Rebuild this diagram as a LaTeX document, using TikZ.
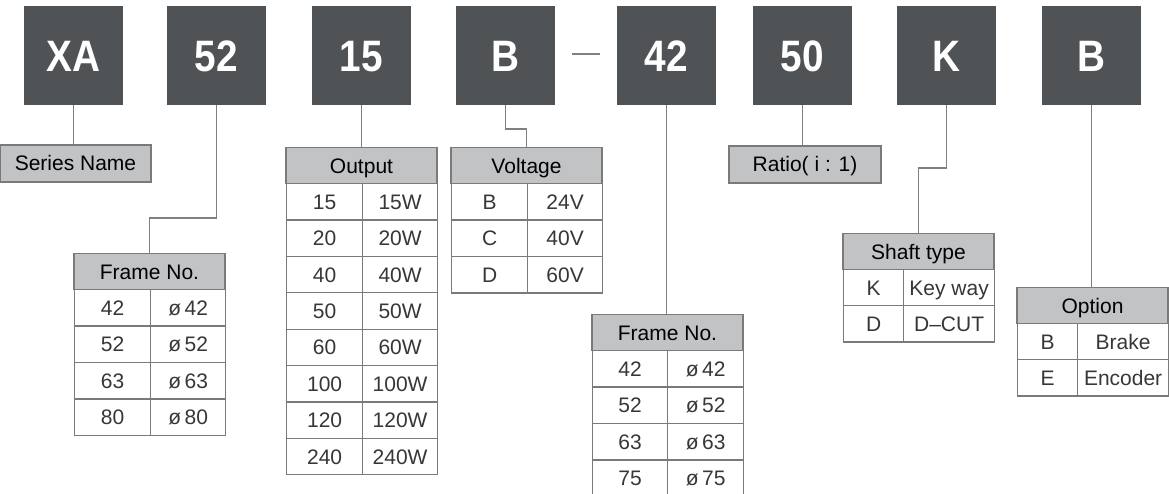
\documentclass[tikz,border=0pt]{standalone}
\usepackage{fontspec}
\setmainfont{Liberation Sans}
\newfontfamily\codefam{Liberation Sans}[FakeStretch=0.88]
\usepackage{tikz}
\usetikzlibrary{positioning}
\definecolor{codegray}{RGB}{80,83,86}
\definecolor{headgray}{RGB}{193,195,197}
\definecolor{rule}{RGB}{122,122,122}
\definecolor{wiregray}{RGB}{128,128,128}
\definecolor{celltext}{RGB}{55,55,55}
\tikzset{
  codebox/.style ={rectangle, fill=codegray, minimum size=99pt, inner sep=0pt,
                   text=white, text height=31.5pt, text depth=0pt,
                   font=\fontsize{44}{48}\selectfont\codefam\bfseries},
  tabhead/.style ={rectangle, draw=rule, line width=1.2pt, fill=headgray, minimum height=36pt,
                   inner sep=0pt, anchor=north, text=black, text height=15pt, text depth=0pt,
                   font=\fontsize{21}{24}\selectfont},
  namebox/.style ={tabhead, anchor=center, minimum height=37pt},
  tabcell/.style ={rectangle, draw=rule, line width=1.2pt, fill=white, minimum height=36.4pt,
                   inner sep=0pt, anchor=north west, text=celltext, text height=15pt, text depth=0pt,
                   font=\fontsize{21}{24}\selectfont},
  wire/.style    ={draw=wiregray, line width=1.6pt},
}

\begin{document}
\begin{tikzpicture}[x=1pt, y=-1pt]
\clip (0,0) rectangle (1169,494);

% code boxes
\node[codebox] (cseries) at (73.5,55.5)   {XA};
\node[codebox] (cframe)  at (216.5,55.5)  {52};
\node[codebox] (coutput) at (361.5,55.5)  {15};
\node[codebox] (cvolt)   at (505.5,55.5)  {B};
\node[codebox] (cgframe) at (666.5,55.5)  {42};
\node[codebox] (cratio)  at (802.5,55.5)  {50};
\node[codebox] (cshaft)  at (946.5,55.5)  {K};
\node[codebox] (coption) at (1091.5,55.5) {B};

\coordinate (dashL) at (572,54);
\coordinate (dashR) at (600,54);
\draw[wire, line width=1.2pt] (dashL) -- (dashR);

% single labels
\node[namebox, minimum width=151pt] (series) at (75.5,163.5) {Series Name};
\node[namebox, minimum width=152pt] (ratio)  at (805,164.5)  {Ratio( i : 1)};

% frame no. (motor)
\node[tabhead, minimum width=151pt] (frame) at (149.5,253) {Frame No.};
\foreach \k/\v [count=\i] in {42/{ø\,42}, 52/{ø\,52}, 63/{ø\,63}, 80/{ø\,80}} {
  \node[tabcell, minimum width=76pt] (frame-k\i) at (74, {289+(\i-1)*36.5}) {\k};
  \node[tabcell, minimum width=75pt] (frame-v\i) at (150, {289+(\i-1)*36.5}) {\v};
}

% output
\node[tabhead, minimum width=151pt] (output) at (361.5,147) {Output};
\foreach \k [count=\i] in {15, 20, 40, 50, 60, 100, 120, 240} {
  \node[tabcell, minimum width=76pt] (output-k\i) at (286, {183+(\i-1)*36.4}) {\k};
  \node[tabcell, minimum width=75pt] (output-v\i) at (362, {183+(\i-1)*36.4}) {\k W};
}

% voltage
\node[tabhead, minimum width=151pt] (volt) at (526.5,147) {Voltage};
\foreach \k/\v [count=\i] in {B/24V, C/40V, D/60V} {
  \node[tabcell, minimum width=76pt] (volt-k\i) at (451, {183+(\i-1)*36.5}) {\k};
  \node[tabcell, minimum width=75pt] (volt-v\i) at (527, {183+(\i-1)*36.5}) {\v};
}

% frame no. (gear)
\node[tabhead, minimum width=151pt] (gframe) at (667.5,314) {Frame No.};
\foreach \k/\v [count=\i] in {42/{ø\,42}, 52/{ø\,52}, 63/{ø\,63}, 75/{ø\,75}} {
  \node[tabcell, minimum width=75pt] (gframe-k\i) at (592, {350+(\i-1)*36.5}) {\k};
  \node[tabcell, minimum width=76pt] (gframe-v\i) at (667, {350+(\i-1)*36.5}) {\v};
}

% shaft type
\node[tabhead, minimum width=151pt] (shaft) at (918.5,233) {Shaft type};
\foreach \k/\v [count=\i] in {K/Key way, D/D–CUT} {
  \node[tabcell, minimum width=60pt] (shaft-k\i) at (843, {269+(\i-1)*36}) {\k};
  \node[tabcell, minimum width=91pt] (shaft-v\i) at (903, {269+(\i-1)*36}) {\v};
}

% option
\node[tabhead, minimum width=151pt] (option) at (1092.5,287) {Option};
\foreach \k/\v [count=\i] in {B/Brake, E/Encoder} {
  \node[tabcell, minimum width=60pt] (option-k\i) at (1017, {323+(\i-1)*36}) {\k};
  \node[tabcell, minimum width=91pt] (option-v\i) at (1077, {323+(\i-1)*36}) {\v};
}

% connectors
\draw[wire] (cseries.south) -- (cseries.south |- series.north);
\draw[wire] (cframe.south) -- ++(0,113) -| (frame.north);
\draw[wire] (coutput.south) -- (output.north);
\draw[wire] (cvolt.south) -- ++(0,24) -| (volt.north);
\draw[wire] (cgframe.south) -- (cgframe.south |- gframe.north);
\draw[wire] (cratio.south) -- (cratio.south |- ratio.north);
\draw[wire] (cshaft.south) -- ++(0,63) -| (shaft.north);
\draw[wire] (coption.south) -- (coption.south |- option.north);
\end{tikzpicture}
\end{document}
